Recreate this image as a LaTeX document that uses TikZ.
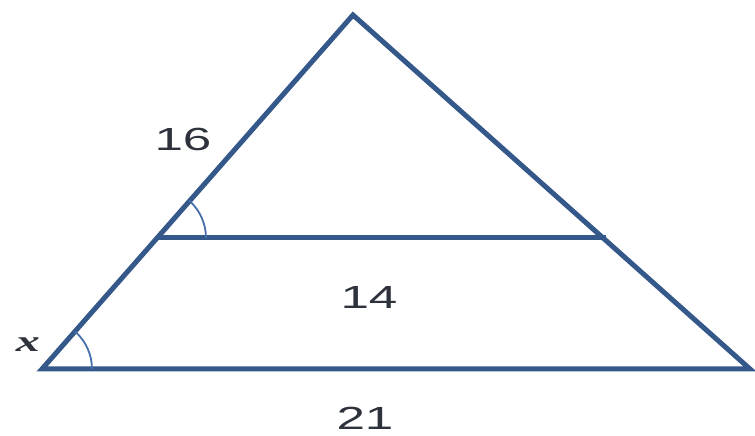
\documentclass[tikz,border=0pt]{standalone}
\usepackage{fontspec}
\setmainfont{Liberation Sans}
\newfontfamily\xfont{Liberation Serif}
\definecolor{edge}{RGB}{52,88,138}
\definecolor{arcc}{RGB}{70,110,170}
\definecolor{txt}{RGB}{45,50,60}
\newcommand{\wide}[1]{\scalebox{1.6}[1]{#1}}
\begin{document}
\begin{tikzpicture}[x=1pt,y=1pt,
  side/.style={draw=edge,line width=5pt,line join=miter},
  anglearc/.style={draw=arcc,line width=1.8pt},
  lbl/.style={text=txt,font=\fontsize{32}{32}\selectfont,inner sep=0pt}]
\useasboundingbox (0,0) rectangle (755,436);
\coordinate (A) at (353,421);
\coordinate (B) at (42,67);
\coordinate (C) at (750,67);
\coordinate (D) at (156,198);
\coordinate (E) at (606,198);
\draw[side] (B) -- (A) -- (C) -- cycle;
\draw[side] (D) -- (E);
\draw[anglearc] ([xshift=50pt]B) arc[start angle=0,end angle=48.7,radius=50pt];
\draw[anglearc] ([xshift=50pt]D) arc[start angle=0,end angle=48.7,radius=50pt];
\node[lbl] (l16) at (183,297) {\wide{16}};
\node[lbl] (l14) at (369,139) {\wide{14}};
\node[lbl] (l21) at (365,18) {\wide{21}};
\node[text=txt,font=\xfont\bfseries\itshape\fontsize{30}{30}\selectfont,inner sep=0pt] (lx) at (28,91) {\wide{x}};
\end{tikzpicture}
\end{document}
